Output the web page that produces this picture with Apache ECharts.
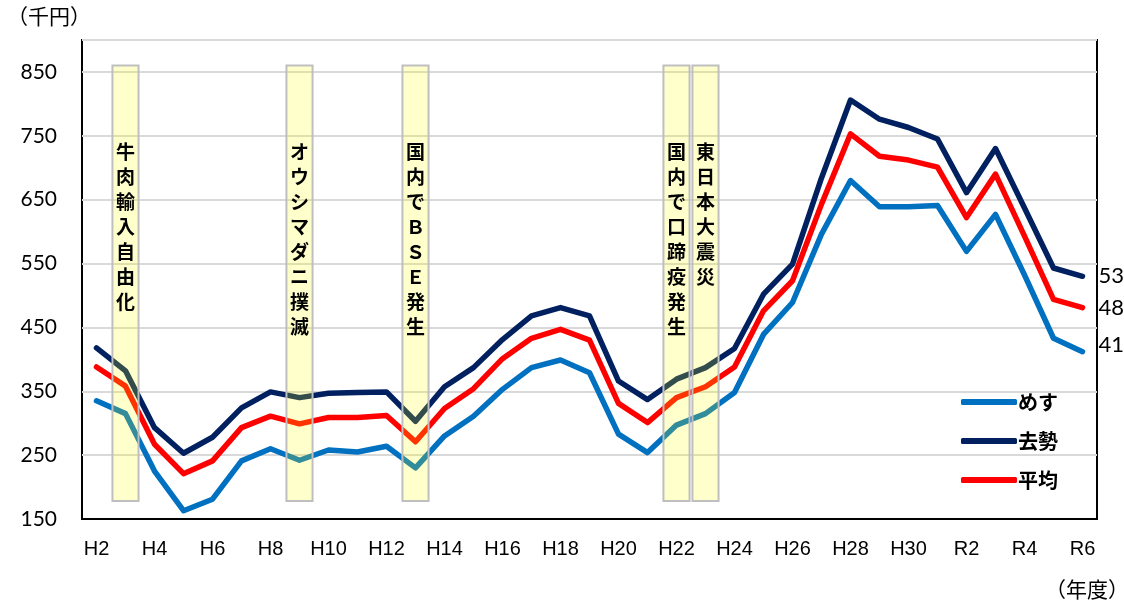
<!DOCTYPE html>
<html>
<head>
<meta charset="utf-8">
<script src="https://cdn.jsdelivr.net/npm/echarts@6/dist/echarts.min.js"></script>
<style>
  html, body { margin: 0; padding: 0; background: #fff; }
  #chart { width: 1124px; height: 606px; }
</style>
</head>
<body>
<div id="chart"></div>
<script>
(function() {
    // 年度
    var years = ['H2','H3','H4','H5','H6','H7','H8','H9','H10','H11','H12','H13','H14','H15','H16',
        'H17','H18','H19','H20','H21','H22','H23','H24','H25','H26','H27','H28','H29','H30','H31',
        'R2','R3','R4','R5','R6'];
    // めす
    var mesu = [335,315,225,163,181,241,260,242,258,255,264,230,280,311,353,
        387,399,379,283,254,297,315,348,439,489,596,680,639,639,641,
        569,627,532,433,412];
    // 去勢
    var kyosei = [418,382,293,253,278,324,349,340,347,348,349,303,357,387,431,
        468,481,468,366,337,369,387,417,502,549,684,806,776,763,745,
        661,730,637,543,530];
    // 平均
    var heikin = [388,358,267,221,241,293,311,299,309,309,312,271,323,354,401,
        433,447,430,331,301,340,357,388,476,523,643,753,718,712,701,
        622,690,593,494,481];
    // 出来事
    var event_years = ['H3','H9','H13','H22','H23'];
    var event_labels = ['牛肉輸入自由化','オウシマダニ撲滅','国内でＢＳＥ発生','国内で口蹄疫発生','東日本大震災'];

    var num_font = 'Lato, "Liberation Sans", sans-serif';
    var jp_font = '"Noto Sans CJK JP", sans-serif';

    function line_series(name, data, color, label_offset) {
        return {
            name: name,
            type: 'line',
            data: data,
            symbol: 'none',
            z: 2,
            lineStyle: { color: color, width: 5.5, cap: 'round', join: 'round' },
            itemStyle: { color: color },
            endLabel: {
                show: true,
                distance: 16,
                offset: label_offset,
                color: '#000',
                fontFamily: num_font,
                fontSize: 22,
                formatter: function(p) { return p.value; }
            }
        };
    }

    var option = {
        animation: false,
        grid: {
            left: 82,
            right: 27,
            top: 40,
            bottom: 87,
            show: true,
            borderColor: '#000',
            borderWidth: 2
        },
        legend: {
            data: ['めす','去勢','平均'],
            orient: 'vertical',
            left: 956,
            top: 387,
            icon: 'roundRect',
            itemWidth: 56,
            itemHeight: 6,
            itemGap: 19,
            textStyle: { fontFamily: jp_font, fontWeight: 'bold', fontSize: 20, color: '#000', padding: [0, 0, 0, -4] }
        },
        xAxis: {
            type: 'category',
            data: years,
            boundaryGap: true,
            axisTick: { show: false },
            axisLine: { lineStyle: { color: '#000', width: 2 } },
            axisLabel: {
                interval: 1,
                margin: 20,
                color: '#000',
                fontFamily: '"Liberation Sans", Arial, sans-serif',
                fontSize: 20
            }
        },
        yAxis: {
            type: 'value',
            min: 150,
            max: 900,
            interval: 100,
            axisLine: { show: false },
            axisTick: { show: false },
            axisLabel: {
                showMaxLabel: false,
                margin: 25,
                color: '#000',
                fontFamily: num_font,
                fontSize: 21
            },
            splitLine: { lineStyle: { color: '#D9D9D9', width: 2 } }
        },
        graphic: [
            { type: 'text', left: 7, top: 6, style: { text: '（千円）', font: '21px ' + jp_font, fill: '#000' } },
            { type: 'text', left: 1045, top: 579, style: { text: '（年度）', font: '21px ' + jp_font, fill: '#000' } }
        ],
        series: [
            line_series('めす', mesu, '#0070C0', [0, -7]),
            line_series('去勢', kyosei, '#002060', [0, 0]),
            line_series('平均', heikin, '#FF0000', [0, 0]),
            {
                name: 'events',
                type: 'custom',
                z: 5,
                silent: true,
                data: event_years.map(function(y) { return [y]; }),
                encode: { x: 0 },
                renderItem: function(params, api) {
                    var cat = api.value(0);
                    var top = api.coord([cat, 860]);
                    var bottom = api.coord([cat, 178]);
                    var w = api.size([1, 0])[0] * 0.9;
                    var text = event_labels[params.dataIndex].split('').join('\n');
                    return {
                        type: 'group',
                        children: [
                            {
                                type: 'rect',
                                shape: { x: top[0] - w / 2, y: top[1], width: w, height: bottom[1] - top[1] },
                                style: { fill: 'rgba(255,255,0,0.2)', stroke: '#BFBFBF', lineWidth: 2 }
                            },
                            {
                                type: 'text',
                                style: {
                                    text: text,
                                    x: top[0],
                                    y: top[1] + 74,
                                    align: 'center',
                                    verticalAlign: 'top',
                                    font: 'bold 19px ' + jp_font,
                                    lineHeight: 25,
                                    fill: '#000'
                                }
                            }
                        ]
                    };
                }
            }
        ]
    };

    var myChart = echarts.init(document.getElementById('chart'));
    myChart.setOption(option);
})();
</script>
</body>
</html>
